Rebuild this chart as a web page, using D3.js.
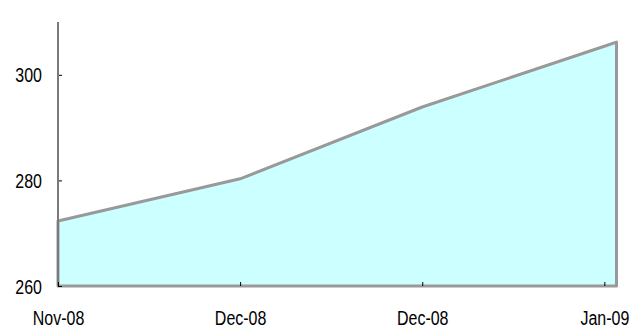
<!DOCTYPE html>
<html>
<head>
<meta charset="utf-8">
<script src="https://cdn.jsdelivr.net/npm/d3@7"></script>
<style>
  html, body { margin: 0; padding: 0; background: #ffffff; }
  svg { display: block; }
  text { font-family: "Liberation Sans", Arial, sans-serif; fill: #000; }
</style>
</head>
<body>
<svg id="chart" width="644" height="331"></svg>
<script>
// Series: observation dates and values
const dates = ["2008-11-20", "2008-12-05", "2008-12-20", "2009-01-04", "2009-01-05"];
const values = [272.3, 280.3, 293.9, 305.4, 306.2];

// Axis ticks
const xTickDates = ["2008-11-20", "2008-12-05", "2008-12-20", "2009-01-04"];
const yTicks = [260, 280, 300];

(function () {
  const parse = d3.timeParse("%Y-%m-%d");
  const data = dates.map((d, i) => ({ date: parse(d), value: values[i] }));

  const svg = d3.select("#chart");
  const plotLeft = 58, plotRight = 616.5, plotTop = 22, plotBottom = 286;
  const narrow = 0.82; // condensed lettering

  const x = d3.scaleTime()
    .domain([parse(dates[0]), parse(dates[dates.length - 1])])
    .range([plotLeft, plotRight]);
  const y = d3.scaleLinear().domain([260, 310]).range([plotBottom, plotTop]);

  // Filled area under the series
  const area = d3.area()
    .x(d => x(d.date))
    .y0(y(260))
    .y1(d => y(d.value));

  svg.append("path")
    .datum(data)
    .attr("d", area)
    .attr("fill", "#ccffff")
    .attr("stroke", "#999999")
    .attr("stroke-width", 3)
    .attr("stroke-linejoin", "round");

  // Y axis
  const yAxis = d3.axisRight(y).tickValues(yTicks).tickSize(4).tickFormat(d3.format("d"));
  const gy = svg.append("g").attr("transform", `translate(${plotLeft},0)`).call(yAxis);
  gy.select(".domain").remove();
  gy.selectAll(".tick line").attr("stroke", "#000").attr("stroke-width", 1);
  gy.selectAll(".tick text")
    .attr("x", 0)
    .attr("transform", `translate(-16,0) scale(${narrow},1)`)
    .attr("text-anchor", "end")
    .attr("dy", "0.36em")
    .style("font-size", "19.5px");

  svg.append("line")
    .attr("x1", plotLeft).attr("x2", plotLeft)
    .attr("y1", plotTop).attr("y2", plotBottom)
    .attr("stroke", "#7a7a7a")
    .attr("stroke-width", 2);

  // X axis
  const xAxis = d3.axisTop(x)
    .tickValues(xTickDates.map(parse))
    .tickSize(4)
    .tickFormat(d3.timeFormat("%b-%y"));
  const gx = svg.append("g").attr("transform", `translate(0,${plotBottom})`).call(xAxis);
  gx.select(".domain").remove();
  gx.selectAll(".tick line").attr("stroke", "#000").attr("stroke-width", 1);
  gx.selectAll(".tick text")
    .attr("y", 39)
    .attr("dy", 0)
    .attr("transform", `scale(${narrow},1)`)
    .attr("text-anchor", "middle")
    .style("font-size", "19.5px");
})();
</script>
</body>
</html>
